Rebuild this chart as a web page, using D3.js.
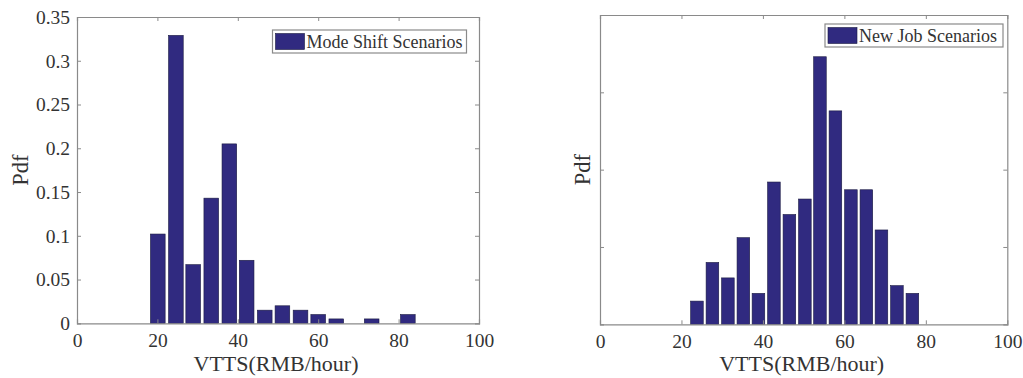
<!DOCTYPE html>
<html>
<head>
<meta charset="utf-8">
<script src="https://cdn.jsdelivr.net/npm/d3@7"></script>
<style>
  html, body { margin: 0; padding: 0; background: #fff; }
  svg { display: block; }
  text { font-family: "Liberation Serif", "Times New Roman", serif; fill: #333; }
</style>
</head>
<body>
<svg id="chart" width="1023" height="378"></svg>
<script>
// ---- Data ----
const modeShiftBins = [20.1, 24.6, 28.9, 33.4, 37.9, 42.2, 46.7, 51.1, 55.6, 60.0, 64.5, 68.9, 73.3, 77.8, 82.3];
const modeShiftPdf  = [0.102, 0.329, 0.067, 0.143, 0.205, 0.072, 0.015, 0.020, 0.015, 0.010, 0.005, 0, 0.005, 0, 0.010];

const newJobBins = [23.8, 27.6, 31.4, 35.2, 38.9, 42.7, 46.5, 50.3, 54.0, 57.8, 61.6, 65.4, 69.1, 72.9, 76.7];
const newJobPdf  = [0.015, 0.040, 0.030, 0.056, 0.020, 0.092, 0.071, 0.081, 0.173, 0.138, 0.087, 0.087, 0.061, 0.025, 0.020];

const xTicks = [0, 20, 40, 60, 80, 100];
const leftYTicks = [0, 0.05, 0.1, 0.15, 0.2, 0.25, 0.3, 0.35];
const rightYTicks = [0, 0.05, 0.1, 0.15, 0.2];

const xLabel = "VTTS(RMB/hour)";
const yLabel = "Pdf";
const legendLeft = "Mode Shift Scenarios";
const legendRight = "New Job Scenarios";

// ---- Drawing ----
const svg = d3.select("#chart");
const barColor = "#302a80";
const axisColor = "#8a8a8a";

function panel(opts) {
  const {x0, x1, y0, y1, bins, vals, yMax, yTicks, showYLabels, legend, legendBox, binWidth} = opts;
  const g = svg.append("g");
  const x = d3.scaleLinear().domain([0, 100]).range([x0, x1]);
  const y = d3.scaleLinear().domain([0, yMax]).range([y1, y0]);

  // bars
  const bw = (x(binWidth) - x(0)) * 0.82;
  g.selectAll("rect.bar").data(bins.map((b, i) => ({b, v: vals[i]})).filter(d => d.v > 0))
    .enter().append("rect")
    .attr("x", d => x(d.b) - bw / 2)
    .attr("width", bw)
    .attr("y", d => y(d.v))
    .attr("height", d => y(0) - y(d.v))
    .attr("fill", barColor)
    .attr("stroke", "#1a1a40")
    .attr("stroke-width", 0.6);

  // axes (ticks inside, box)
  const tickLen = 4;
  const xb = g.append("g").attr("transform", `translate(0,${y1})`)
    .call(d3.axisBottom(x).tickValues(xTicks).tickSize(-tickLen).tickPadding(10).tickFormat(d3.format("d")));
  const xt = g.append("g").attr("transform", `translate(0,${y0})`)
    .call(d3.axisTop(x).tickValues(xTicks).tickSize(-tickLen).tickFormat(""));
  const yl = g.append("g").attr("transform", `translate(${x0},0)`)
    .call(d3.axisLeft(y).tickValues(yTicks).tickSize(-tickLen).tickPadding(7)
      .tickFormat(showYLabels ? (d => d === 0 ? "0" : String(+d.toFixed(2))) : ""));
  const yr = g.append("g").attr("transform", `translate(${x1},0)`)
    .call(d3.axisRight(y).tickValues(yTicks).tickSize(-tickLen).tickFormat(""));
  [xb, xt, yl, yr].forEach(a => {
    a.selectAll("path.domain").attr("stroke", axisColor).attr("stroke-width", 1.2);
    a.selectAll(".tick line").attr("stroke", axisColor);
    a.selectAll(".tick text").style("font-family", '"Liberation Serif", serif')
      .style("font-size", "19.5px").attr("fill", "#333");
  });
  // hide end ticks on box edges
  xb.selectAll(".tick").filter(d => d === 0 || d === 100).select("line").remove();
  xt.selectAll(".tick").filter(d => d === 0 || d === 100).select("line").remove();
  yl.selectAll(".tick").filter(d => d === 0 || d === yMax).select("line").remove();
  yr.selectAll(".tick").filter(d => d === 0 || d === yMax).select("line").remove();

  // axis labels
  g.append("text").attr("x", (x0 + x1) / 2 - 2).attr("y", 371)
    .attr("text-anchor", "middle").style("font-size", "22px").text(xLabel);
  g.append("text").attr("transform", `translate(${opts.yLabelX},${(y0 + y1) / 2}) rotate(-90)`)
    .attr("text-anchor", "middle").style("font-size", "22.5px").text(yLabel);

  // legend
  const [lx, ly, lw, lh] = legendBox;
  g.append("rect").attr("x", lx).attr("y", ly).attr("width", lw).attr("height", lh)
    .attr("fill", "#fff").attr("stroke", axisColor).attr("stroke-width", 1.2);
  g.append("rect").attr("x", lx + 3).attr("y", ly + 3.5).attr("width", 29).attr("height", lh - 7)
    .attr("fill", barColor).attr("stroke", "#1a1a40").attr("stroke-width", 0.6);
  g.append("text").attr("x", lx + 34).attr("y", ly + lh / 2 + 6)
    .style("font-size", "18px").text(legend);
}

panel({x0: 77, x1: 479, y0: 17, y1: 323.3, bins: modeShiftBins, vals: modeShiftPdf,
  yMax: 0.35, yTicks: leftYTicks, showYLabels: true, legend: legendLeft,
  legendBox: [272.5, 30, 194, 23], binWidth: 4.45, yLabelX: 28});

panel({x0: 600, x1: 1007.3, y0: 15, y1: 324.3, bins: newJobBins, vals: newJobPdf,
  yMax: 0.2, yTicks: rightYTicks, showYLabels: false, legend: legendRight,
  legendBox: [825, 24, 178, 23], binWidth: 3.78, yLabelX: 590});
</script>
</body>
</html>
